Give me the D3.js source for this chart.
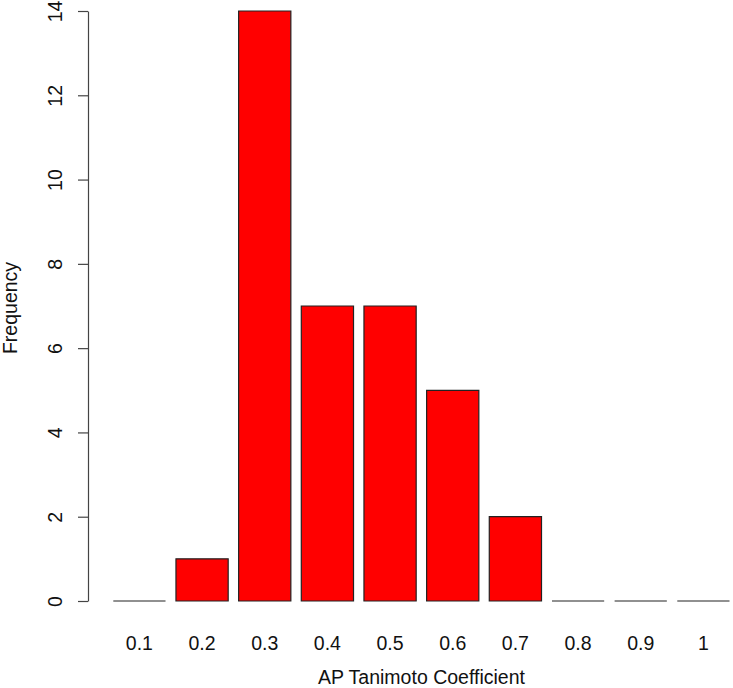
<!DOCTYPE html>
<html>
<head>
<meta charset="utf-8">
<script src="https://cdn.jsdelivr.net/npm/d3@7"></script>
<style>
  body { margin: 0; background: #fff; }
  svg { display: block; }
</style>
</head>
<body>
<div id="chart"></div>
<script>
// Data
const bins = ["0.1", "0.2", "0.3", "0.4", "0.5", "0.6", "0.7", "0.8", "0.9", "1"];
const counts = [0, 1, 14, 7, 7, 5, 2, 0, 0, 0];
const yTicks = [0, 2, 4, 6, 8, 10, 12, 14];

const width = 733;
const height = 688;

const svg = d3.select("#chart")
  .append("svg")
  .attr("width", width)
  .attr("height", height)
  .attr("font-family", "'Liberation Sans', Arial, sans-serif");

// Scales
const x = d3.scaleBand()
  .domain(bins)
  .range([113.3, 729.5])
  .paddingInner(1 / 6)
  .paddingOuter(0);

const y = d3.scaleLinear()
  .domain([0, 14])
  .range([601, 11]);

// Bars as paths so empty bins still show their baseline stroke
function barPath(d, i) {
  const x0 = x(bins[i]), x1 = x0 + x.bandwidth();
  const p = d3.path();
  p.moveTo(x0, y(0));
  p.lineTo(x0, y(d));
  p.lineTo(x1, y(d));
  p.lineTo(x1, y(0));
  p.closePath();
  return p.toString();
}

svg.append("g")
  .selectAll("path")
  .data(counts)
  .join("path")
    .attr("d", barPath)
    .attr("fill", "#ff0000")
    .attr("stroke", "#222")
    .attr("stroke-width", 1.2);

// Y axis
const yAxis = svg.append("g")
  .attr("transform", "translate(88,0)")
  .call(d3.axisLeft(y).tickValues(yTicks).tickSize(10).tickSizeOuter(0).tickFormat(d3.format("d")));

yAxis.select(".domain").attr("stroke", "#444").attr("stroke-width", 1.2);
yAxis.selectAll(".tick line").attr("stroke", "#444").attr("stroke-width", 1.2);
yAxis.selectAll(".tick text")
  .attr("font-size", 19.5)
  .attr("fill", "#111")
  .attr("x", null)
  .attr("dy", null)
  .attr("transform", "translate(-26,0) rotate(-90)")
  .attr("text-anchor", "middle");

// X labels (no axis line, like R barplot names)
svg.append("g")
  .selectAll("text")
  .data(bins)
  .join("text")
    .attr("x", d => x(d) + x.bandwidth() / 2)
    .attr("y", 650)
    .attr("text-anchor", "middle")
    .attr("font-size", 19.5)
    .attr("fill", "#111")
    .text(d => d);

// Axis titles
svg.append("text")
  .attr("x", (x.range()[0] + x.range()[1]) / 2)
  .attr("y", 684)
  .attr("text-anchor", "middle")
  .attr("font-size", 19.5)
  .attr("fill", "#111")
  .text("AP Tanimoto Coefficient");

svg.append("text")
  .attr("transform", "translate(17,308) rotate(-90)")
  .attr("text-anchor", "middle")
  .attr("font-size", 19.5)
  .attr("fill", "#111")
  .text("Frequency");
</script>
</body>
</html>
